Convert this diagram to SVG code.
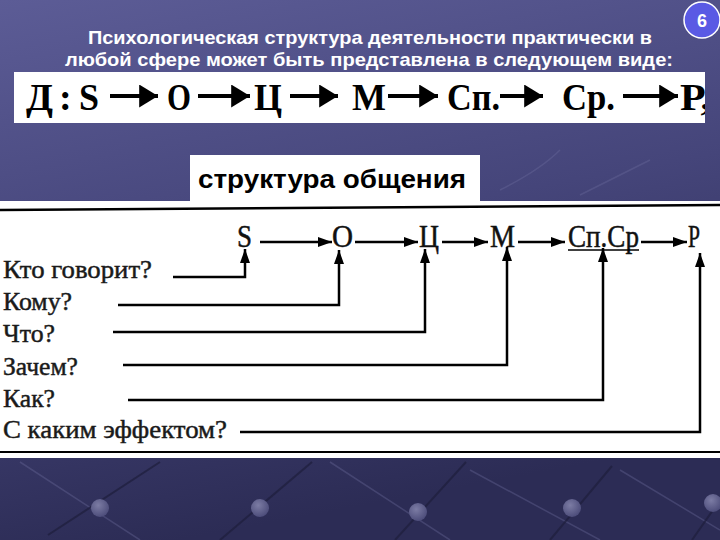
<svg xmlns="http://www.w3.org/2000/svg" width="720" height="540" viewBox="0 0 720 540">
<defs>
<linearGradient id="bg" x1="0" y1="0" x2="0.25" y2="1">
<stop offset="0" stop-color="#5c5c96"/>
<stop offset="0.5" stop-color="#45457a"/>
<stop offset="1" stop-color="#2c2c55"/>
</linearGradient>
<radialGradient id="ball" cx="0.4" cy="0.35" r="0.7">
<stop offset="0" stop-color="#7c7ca4"/>
<stop offset="1" stop-color="#4a4a78"/>
</radialGradient>
<marker id="ah" viewBox="0 0 14 10" refX="14" refY="5" markerWidth="14" markerHeight="10" markerUnits="userSpaceOnUse" orient="auto">
<path d="M0,0 L14,5 L0,10 Z" fill="#000"/>
</marker>
<marker id="bh" viewBox="0 0 18 22" refX="18" refY="11" markerWidth="19" markerHeight="23" markerUnits="userSpaceOnUse" orient="auto">
<path d="M0,0 L18,11 L0,22 Z" fill="#000"/>
</marker>
<clipPath id="box1clip"><rect x="14" y="72" width="691" height="51"/></clipPath>
</defs>
<style>
.title{font-family:"Liberation Sans",Arial,sans-serif;font-weight:bold;font-size:19px;fill:#fff}
.big{font-family:"Liberation Serif","Times New Roman",serif;font-weight:bold;font-size:38px;fill:#000}
.sub{font-family:"Liberation Sans",Arial,sans-serif;font-weight:bold;font-size:26px;fill:#000}
.lbl{font-family:"Liberation Serif","Times New Roman",serif;font-size:25px;fill:#1a1a1a;stroke:#1a1a1a;stroke-width:0.45}
.node{font-family:"Liberation Serif","Times New Roman",serif;font-size:32px;fill:#111;stroke:#111;stroke-width:0.5}
.thin{stroke:#000;stroke-width:2.5;fill:none}
.thick{stroke:#000;stroke-width:4;fill:none}
.deco{stroke:#1e1e3c;stroke-width:2;opacity:0.7}
.decol{stroke:#7070a0;stroke-width:1.5;opacity:0.35}
</style>
<rect x="0" y="0" width="720" height="540" fill="url(#bg)"/>
<!-- background decoration -->
<g id="decoration">
<line class="decol" x1="20" y1="462" x2="140" y2="540"/>
<line class="decol" x1="330" y1="462" x2="450" y2="540"/>
<line class="decol" x1="470" y1="470" x2="600" y2="540"/>
<line class="decol" x1="620" y1="470" x2="720" y2="530"/>
<line class="deco" x1="48" y1="535" x2="160" y2="462"/>
<line class="deco" x1="220" y1="540" x2="312" y2="462"/>
<line class="deco" x1="395" y1="540" x2="466" y2="462"/>
<line class="deco" x1="550" y1="540" x2="612" y2="466"/>
<line class="deco" x1="692" y1="540" x2="720" y2="500"/>
<circle cx="100" cy="508" r="9" fill="url(#ball)"/>
<circle cx="260" cy="508" r="9" fill="url(#ball)"/>
<circle cx="418" cy="512" r="9" fill="url(#ball)"/>
<circle cx="572" cy="508" r="9" fill="url(#ball)"/>
<circle cx="713" cy="503" r="9" fill="url(#ball)"/>
<path class="decol" d="M500,190 Q540,170 560,150 M580,195 Q620,175 650,160" fill="none"/>
</g>
<!-- title -->
<g id="title">
<text class="title" x="88" y="44" textLength="564" lengthAdjust="spacingAndGlyphs">Психологическая структура деятельности практически в</text>
<text class="title" x="65" y="66" textLength="608" lengthAdjust="spacingAndGlyphs">любой сфере может быть представлена в следующем виде:</text>
</g>
<g id="page-number">
<circle cx="702" cy="20" r="18" fill="#5a5ae4" stroke="#fff" stroke-width="1.5"/>
<text x="702" y="27" text-anchor="middle" font-family="Liberation Sans, Arial, sans-serif" font-weight="bold" font-size="18" fill="#fff">6</text>
</g>
<!-- formula box -->
<g id="formula">
<rect x="14" y="72" width="691" height="51" fill="#fff"/>
<g clip-path="url(#box1clip)">
<text class="big" x="26" y="110" textLength="27" lengthAdjust="spacingAndGlyphs">Д</text>
<text class="big" x="59" y="110">:</text>
<text class="big" x="79" y="110" textLength="20" lengthAdjust="spacingAndGlyphs">S</text>
<text class="big" x="167" y="110" textLength="24" lengthAdjust="spacingAndGlyphs">О</text>
<text class="big" x="254" y="110" textLength="28" lengthAdjust="spacingAndGlyphs">Ц</text>
<text class="big" x="352" y="110" textLength="34" lengthAdjust="spacingAndGlyphs">М</text>
<text class="big" x="447" y="110" textLength="53" lengthAdjust="spacingAndGlyphs">Сп.</text>
<text class="big" x="562" y="110" textLength="53" lengthAdjust="spacingAndGlyphs">Ср.</text>
<text class="big" x="680" y="110" textLength="31" lengthAdjust="spacingAndGlyphs">Р,</text>
</g>
<g id="formula-arrows">
<line class="thick" x1="110" y1="96" x2="158" y2="96" marker-end="url(#bh)"/>
<line class="thick" x1="198" y1="96" x2="250" y2="96" marker-end="url(#bh)"/>
<line class="thick" x1="290" y1="96" x2="338" y2="96" marker-end="url(#bh)"/>
<line class="thick" x1="388" y1="96" x2="438" y2="96" marker-end="url(#bh)"/>
<line class="thick" x1="500" y1="96" x2="543" y2="96" marker-end="url(#bh)"/>
<line class="thick" x1="623" y1="96" x2="678" y2="96" marker-end="url(#bh)"/>
</g>
</g>
<!-- communication structure -->
<rect x="0" y="201" width="720" height="257" fill="#fff"/>
<g id="subtitle">
<rect x="190" y="155" width="290" height="47" fill="#fff"/>
<text class="sub" x="198" y="188" textLength="268" lengthAdjust="spacingAndGlyphs">структура общения</text>
</g>
<line x1="0" y1="210" x2="720" y2="205" stroke="#000" stroke-width="2.5"/>
<line x1="0" y1="452" x2="720" y2="452" stroke="#000" stroke-width="2"/>
<g id="node-S"><text class="node" x="237" y="247" textLength="15" lengthAdjust="spacingAndGlyphs">S</text></g>
<g id="node-O"><text class="node" x="332" y="247" textLength="21" lengthAdjust="spacingAndGlyphs">О</text></g>
<g id="node-C"><text class="node" x="419" y="247" textLength="20" lengthAdjust="spacingAndGlyphs">Ц</text></g>
<g id="node-M"><text class="node" x="490" y="247" textLength="25" lengthAdjust="spacingAndGlyphs">М</text></g>
<g id="node-SpSr"><text class="node" x="568" y="247" textLength="71" lengthAdjust="spacingAndGlyphs">Сп.Ср</text>
<line x1="568" y1="250" x2="639" y2="250" stroke="#000" stroke-width="1.5"/></g>
<g id="node-R"><text class="node" x="688" y="247" textLength="12" lengthAdjust="spacingAndGlyphs">Р</text></g>
<g id="labels">
<text class="lbl" x="3" y="278" textLength="149" lengthAdjust="spacingAndGlyphs">Кто говорит?</text>
<text class="lbl" x="3" y="310" textLength="69" lengthAdjust="spacingAndGlyphs">Кому?</text>
<text class="lbl" x="3" y="342" textLength="52" lengthAdjust="spacingAndGlyphs">Что?</text>
<text class="lbl" x="3" y="375" textLength="75" lengthAdjust="spacingAndGlyphs">Зачем?</text>
<text class="lbl" x="3" y="407" textLength="52" lengthAdjust="spacingAndGlyphs">Как?</text>
<text class="lbl" x="3" y="438" textLength="224" lengthAdjust="spacingAndGlyphs">С каким эффектом?</text>
</g>
<g id="connectors">
<line class="thin" x1="260" y1="242" x2="332" y2="242" marker-end="url(#ah)"/>
<line class="thin" x1="355" y1="242" x2="418" y2="242" marker-end="url(#ah)"/>
<line class="thin" x1="442" y1="242" x2="488" y2="242" marker-end="url(#ah)"/>
<line class="thin" x1="518" y1="242" x2="565" y2="242" marker-end="url(#ah)"/>
<line class="thin" x1="641" y1="242" x2="687" y2="242" marker-end="url(#ah)"/>
<polyline class="thin" points="173,277 245,277 245,249" marker-end="url(#ah)"/>
<polyline class="thin" points="118,305 339,305 339,250" marker-end="url(#ah)"/>
<polyline class="thin" points="113,332 425,332 425,249" marker-end="url(#ah)"/>
<polyline class="thin" points="123,365 507,365 507,247" marker-end="url(#ah)"/>
<polyline class="thin" points="128,400 603,400 603,248" marker-end="url(#ah)"/>
<polyline class="thin" points="240,432 700,432 700,253" marker-end="url(#ah)"/>
</g>
</svg>
